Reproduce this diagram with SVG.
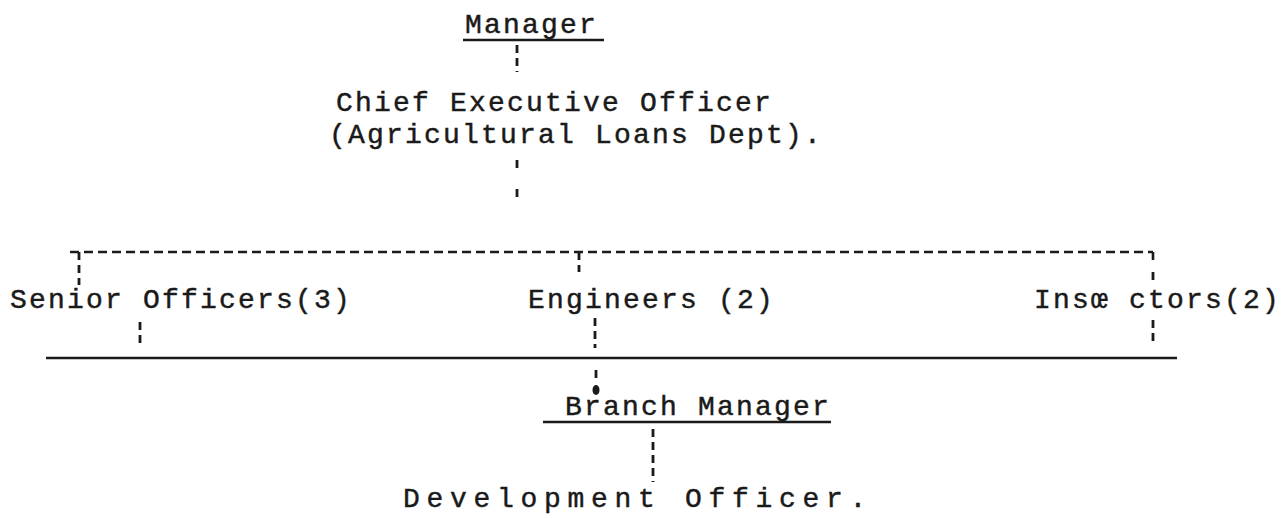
<svg xmlns="http://www.w3.org/2000/svg" width="1282" height="518" viewBox="0 0 1282 518">
<style>
text{font-family:"Liberation Mono","DejaVu Sans Mono",monospace;font-size:28px;fill:#1a1a1a;stroke:#1a1a1a;stroke-width:0.45;letter-spacing:2.2px}
.wide{letter-spacing:6.7px}
.d{stroke:#1a1a1a;stroke-width:2.6;fill:none;stroke-dasharray:9 5}
.v{stroke:#1a1a1a;stroke-width:2.8;fill:none;stroke-dasharray:8 5}
.s{stroke:#1a1a1a;stroke-width:2.6;fill:none}
</style>
<rect width="1282" height="518" fill="#fff"/>
<g id="connectors">
<line class="v" x1="517" y1="45" x2="517" y2="72"/>
<line class="v" x1="517" y1="160" x2="517" y2="169"/>
<line class="v" x1="517" y1="189" x2="517" y2="201"/>
<line class="d" x1="70" y1="252" x2="1153" y2="252"/>
<line class="v" x1="79" y1="252" x2="79" y2="285"/>
<line class="v" x1="579" y1="252" x2="579" y2="272"/>
<line class="s" x1="1153" y1="252" x2="1153" y2="260"/>
<line class="v" x1="1153" y1="272" x2="1153" y2="285"/>
<line class="v" x1="140" y1="322" x2="140" y2="346"/>
<line class="v" x1="595" y1="318" x2="595" y2="348"/>
<line class="v" x1="1153" y1="320" x2="1153" y2="346"/>
<line class="s" x1="46" y1="358" x2="1177" y2="358"/>
<line class="v" x1="596" y1="370" x2="596" y2="383"/>
<ellipse cx="596" cy="390" rx="3.5" ry="5" fill="#1a1a1a"/>
<line class="v" x1="653" y1="429" x2="653" y2="482"/>
</g>
<g id="manager">
<text x="465" y="33">Manager</text>
<line class="s" x1="463" y1="40" x2="604" y2="40"/>
</g>
<g id="ceo">
<text x="336" y="111">Chief Executive Officer</text>
<text x="329" y="143">(Agricultural Loans Dept).</text>
</g>
<g id="senior-officers">
<text x="10" y="308">Senior Officers(3)</text>
</g>
<g id="engineers">
<text x="528" y="308">Engineers (2)</text>
</g>
<g id="inspectors">
<text x="1034" y="308">Insœ ctors(2)</text>
</g>
<g id="branch-manager">
<text x="565" y="415">Branch Manager</text>
<line class="s" x1="543" y1="422" x2="831" y2="422"/>
</g>
<g id="development-officer">
<text class="wide" x="403" y="507">Development Officer.</text>
</g>
</svg>
